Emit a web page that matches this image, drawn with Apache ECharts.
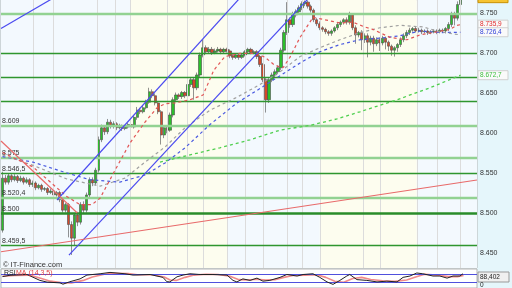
<!DOCTYPE html>
<html><head><meta charset="utf-8">
<script src="https://cdn.jsdelivr.net/npm/echarts@6/dist/echarts.min.js"></script>
<style>html,body{margin:0;padding:0;background:#e5f6fb;}#c{width:512px;height:288px;}</style>
</head><body><div id="c"></div>
<script>
const opens = [8.479,8.544,8.539,8.547,8.542,8.546,8.541,8.544,8.539,8.542,
8.536,8.538,8.532,8.535,8.530,8.531,8.526,8.528,8.523,8.526,
8.517,8.504,8.511,8.486,8.469,8.498,8.489,8.511,8.504,8.523,
8.542,8.538,8.554,8.592,8.607,8.602,8.614,8.609,8.612,8.607,
8.609,8.606,8.608,8.611,8.608,8.620,8.629,8.627,8.632,8.639,
8.652,8.647,8.638,8.627,8.598,8.607,8.604,8.623,8.642,8.648,
8.646,8.651,8.647,8.661,8.667,8.657,8.673,8.698,8.707,8.702,
8.705,8.701,8.703,8.705,8.702,8.705,8.703,8.697,8.695,8.698,
8.695,8.698,8.702,8.705,8.701,8.702,8.696,8.686,8.667,8.642,
8.667,8.673,8.677,8.682,8.704,8.726,8.742,8.736,8.748,8.752,
8.757,8.762,8.764,8.759,8.754,8.742,8.737,8.732,8.730,8.727,
8.725,8.728,8.732,8.736,8.739,8.742,8.739,8.748,8.732,8.723,
8.726,8.717,8.722,8.714,8.719,8.712,8.717,8.713,8.719,8.714,
8.709,8.704,8.707,8.711,8.717,8.722,8.726,8.729,8.731,8.728,
8.729,8.727,8.728,8.726,8.727,8.728,8.727,8.729,8.728,8.731,
8.736,8.748,8.744,8.761];
const closes = [8.544,8.539,8.547,8.542,8.546,8.541,8.544,8.539,8.542,8.536,
8.538,8.532,8.535,8.530,8.531,8.526,8.528,8.523,8.526,8.517,
8.504,8.511,8.486,8.469,8.498,8.489,8.511,8.504,8.523,8.542,
8.538,8.554,8.592,8.607,8.602,8.614,8.609,8.612,8.607,8.609,
8.606,8.608,8.611,8.608,8.620,8.629,8.627,8.632,8.639,8.652,
8.647,8.638,8.627,8.598,8.607,8.604,8.623,8.642,8.648,8.646,
8.651,8.647,8.661,8.667,8.657,8.673,8.698,8.707,8.702,8.705,
8.701,8.703,8.705,8.702,8.705,8.703,8.697,8.695,8.698,8.695,
8.698,8.702,8.705,8.701,8.702,8.696,8.686,8.667,8.642,8.667,
8.673,8.677,8.682,8.704,8.726,8.742,8.736,8.748,8.752,8.757,
8.762,8.764,8.759,8.754,8.742,8.737,8.732,8.730,8.727,8.725,
8.728,8.732,8.736,8.739,8.742,8.739,8.748,8.732,8.723,8.726,
8.717,8.722,8.714,8.719,8.712,8.717,8.713,8.719,8.714,8.709,
8.704,8.707,8.711,8.717,8.722,8.726,8.729,8.731,8.728,8.729,
8.727,8.728,8.726,8.727,8.728,8.727,8.729,8.728,8.731,8.736,
8.748,8.744,8.761,8.769];
const lows = [8.476,8.536,8.536,8.539,8.540,8.538,8.539,8.536,8.537,8.533,
8.533,8.529,8.530,8.527,8.528,8.523,8.524,8.520,8.521,8.514,
8.501,8.501,8.470,8.448,8.460,8.484,8.486,8.500,8.501,8.520,
8.534,8.535,8.551,8.589,8.598,8.599,8.606,8.606,8.604,8.605,
8.603,8.604,8.606,8.605,8.606,8.617,8.624,8.625,8.630,8.637,
8.644,8.635,8.624,8.586,8.594,8.600,8.602,8.620,8.639,8.643,
8.643,8.644,8.642,8.658,8.642,8.654,8.670,8.695,8.699,8.700,
8.698,8.699,8.701,8.699,8.700,8.701,8.694,8.692,8.693,8.692,
8.693,8.696,8.700,8.699,8.699,8.693,8.683,8.664,8.626,8.638,
8.664,8.670,8.674,8.679,8.701,8.723,8.732,8.733,8.745,8.749,
8.754,8.759,8.756,8.751,8.739,8.734,8.729,8.727,8.724,8.722,
8.722,8.726,8.729,8.733,8.736,8.736,8.736,8.729,8.712,8.720,
8.704,8.713,8.695,8.710,8.702,8.709,8.703,8.710,8.705,8.703,
8.697,8.696,8.702,8.708,8.714,8.719,8.723,8.727,8.726,8.726,
8.724,8.725,8.723,8.724,8.725,8.724,8.725,8.726,8.725,8.728,
8.733,8.735,8.741,8.758];
const highs = [8.552,8.548,8.550,8.549,8.549,8.548,8.547,8.546,8.545,8.544,
8.541,8.540,8.537,8.537,8.533,8.533,8.531,8.530,8.528,8.528,
8.519,8.513,8.513,8.490,8.500,8.502,8.514,8.515,8.526,8.545,
8.545,8.557,8.596,8.611,8.610,8.618,8.617,8.615,8.614,8.612,
8.611,8.610,8.613,8.613,8.623,8.633,8.632,8.635,8.642,8.657,
8.655,8.650,8.640,8.629,8.610,8.609,8.626,8.645,8.651,8.650,
8.653,8.653,8.664,8.670,8.670,8.676,8.701,8.717,8.710,8.708,
8.708,8.706,8.708,8.707,8.707,8.707,8.705,8.699,8.700,8.700,
8.700,8.704,8.707,8.707,8.704,8.704,8.698,8.688,8.669,8.669,
8.676,8.680,8.685,8.707,8.729,8.764,8.745,8.752,8.755,8.760,
8.765,8.766,8.766,8.761,8.756,8.744,8.740,8.734,8.732,8.729,
8.730,8.734,8.738,8.741,8.744,8.745,8.752,8.750,8.735,8.728,
8.729,8.725,8.725,8.722,8.722,8.720,8.720,8.722,8.721,8.716,
8.711,8.709,8.713,8.720,8.725,8.729,8.732,8.733,8.733,8.732,
8.731,8.730,8.730,8.729,8.730,8.730,8.731,8.731,8.733,8.739,
8.752,8.752,8.765,8.775];

// moving averages read at points: [candle index, price]
const maFast = [[0,8.576],[10.2,8.558],[21.5,8.521],[25.9,8.511],[29.9,8.511],[32.6,8.519],[37.6,8.554],[42.6,8.588],[47.6,8.614],[51.6,8.632],[54.3,8.637],[57.6,8.638],[62.6,8.642],[67,8.648],[70.6,8.679],[74.3,8.696],[79.3,8.700],[85,8.700],[87.7,8.695],[91,8.685],[93.7,8.682],[96,8.695],[99.4,8.720],[103.7,8.745],[107.7,8.742],[112.7,8.738],[117,8.739],[121,8.733],[123.7,8.730],[129.4,8.720],[135.1,8.717],[139.4,8.723],[143.8,8.726],[149.5,8.730],[151.8,8.735],[153,8.7359]];
const maMid = [[0,8.573],[10.2,8.560],[21.5,8.543],[32.6,8.534],[40.9,8.544],[47.6,8.564],[54.3,8.583],[61,8.607],[69.3,8.629],[77.7,8.644],[86,8.661],[92.7,8.677],[99.4,8.696],[106,8.707],[112.7,8.717],[119.4,8.726],[126.1,8.732],[132.8,8.735],[140.5,8.733],[146.1,8.727],[153,8.723]];
const maSlow = [[0,8.571],[10.2,8.564],[20.2,8.552],[29.2,8.542],[39.2,8.539],[47.6,8.548],[54.3,8.563],[61,8.582],[69.3,8.611],[78.3,8.638],[84.3,8.652],[89.3,8.664],[94.4,8.676],[99.4,8.688],[106,8.702],[112.7,8.711],[119.4,8.717],[126.1,8.719],[132.8,8.722],[139.4,8.728],[146.1,8.726],[153,8.7264]];
const maLong = [[52.6,8.564],[60.3,8.571],[72.6,8.582],[82.7,8.592],[92.7,8.604],[102.7,8.610],[111.7,8.618],[119.4,8.627],[131.8,8.642],[142.8,8.657],[153,8.6727]];

// drawn trend lines: [candle index, price]
const lineBlueOld = [[-0.5,8.7312],[22,8.7801]];
const channelLow = [[22.2,8.4479],[102,8.7679]];
const channelHigh = [[18.2,8.5167],[80,8.7721]];
const lineRedDown = [[-0.5,8.5904],[25,8.5005]];
const lineRedUp = [[-0.5,8.4520],[158.5,8.5417]];

// horizontal levels
const levels = [8.7466,8.700,8.670,8.638,8.609,8.575,8.5465,8.5204,8.500,8.4595];
const levelLabels = ['','','','','8.609','8.575','8.546,5','8.520,4','8.500','8.459,5'];

const yTicks = [8.45,8.50,8.55,8.60,8.65,8.70,8.75];

// RSI panel [candle index, value]
const rsi = [[0,60],[2.5,67],[8.2,71],[12.5,40],[14.9,31],[19.2,27],[20.2,20],[22.5,33],[25.9,48],[28.2,68],[32.6,75],[35.9,82],[40.9,75],[43.6,68],[49.3,71],[53.6,56],[54.9,33],[55.9,32],[58.3,59],[60.3,68],[62.6,75],[66,71],[70.3,71],[75,68],[77,40],[78.3,32],[80.3,48],[82.7,40],[85,52],[87,36],[89.3,40],[92.7,56],[95,71],[98.4,63],[100.4,71],[103.7,75],[106,56],[108.4,32],[110.4,19],[112.7,40],[115,63],[116,71],[118.4,44],[121.7,40],[125.1,32],[128.4,36],[131.8,32],[133.8,56],[136.1,63],[138.4,79],[140.4,75],[143.8,63],[146.1,63],[148.5,52],[150.5,63],[152.8,63],[153.8,75]];
const rsiMA = [[0,62],[4,66],[9,68],[13,50],[16,36],[20,28],[23,27],[27,40],[30,58],[34,72],[37,78],[42,76],[45,70],[50,70],[54,58],[56,42],[58,40],[61,56],[64,68],[68,72],[72,71],[76,62],[79,44],[82,42],[85,46],[88,42],[91,44],[94,56],[97,66],[101,68],[105,70],[108,56],[111,35],[114,30],[117,50],[120,56],[123,45],[127,38],[131,35],[135,42],[138,58],[141,72],[145,68],[149,60],[152,60],[154,66]];

// session shading and time grid (candle index units)
const sessions = [[-0.5,42.6],[42.6,75],[75,106],[106,138.4],[138.4,158.5]];
const timeLines = [10.2,16.9,31.6,37.6,42.6,54.9,61.6,67,75,81,87,95,100,106,120.4,126.1,138.4,145.1,152.8];

const N = 159;
const cats = Array.from({length:N},(_, i)=>String(i));
const yMax = 8.7667, yMin = 8.7667 - 268/800;

const sessionColors = ['#f3f9fe','#fdfdef'];
const levelStyle = {
  light:{color:'#92d292', width:2.3},
  dark:{color:'#2f962f', width:1.3},
  thick:{color:'#2a8c2a', width:2.6}
};
const levelKind = ['light','dark','dark','dark','light','light','dark','light','thick','dark'];

const chart = echarts.init(document.getElementById('c'), null, {renderer:'canvas', width:512, height:288});

const lineS = (data, color, width, type, z) => ({
  type:'line', xAxisIndex:1, yAxisIndex:0, data, showSymbol:false, symbol:'none',
  lineStyle:{color, width, type}, z: z||5, silent:true, animation:false
});

const option = {
  animation:false,
  backgroundColor:'transparent',
  textStyle:{fontFamily:'Liberation Sans, Arial, sans-serif'},
  grid:[
    {left:1, top:0, right:35, height:268, show:true, backgroundColor:'#ffffff', borderColor:'#b5b5b5', borderWidth:1},
    {left:1, top:269, right:35, height:21, show:true, backgroundColor:'#ffffff', borderColor:'#b5b5b5', borderWidth:1}
  ],
  xAxis:[
    {type:'category', gridIndex:0, data:cats, boundaryGap:true, show:false},
    {type:'value', gridIndex:0, min:-0.5, max:N-0.5, show:false},
    {type:'value', gridIndex:1, min:-0.5, max:N-0.5, show:false}
  ],
  yAxis:[
    {type:'value', gridIndex:0, position:'right', min:yMin, max:yMax,
      splitLine:{show:false},
      axisLine:{show:true, lineStyle:{color:'#b0b0b0'}},
      axisTick:{show:true, customValues:yTicks, length:3, lineStyle:{color:'#555'}},
      axisLabel:{customValues:yTicks, formatter:v=>v.toFixed(3), fontSize:7, color:'#333', margin:3}},
    {type:'value', gridIndex:1, min:0, max:100, show:false, splitLine:{show:false}}
  ],
  series:[
    {type:'line', xAxisIndex:1, yAxisIndex:0, data:[], z:1, silent:true,
      markArea:{silent:true, data: sessions.map((s,k)=>[{xAxis:s[0], itemStyle:{color:sessionColors[k%2]}},{xAxis:s[1]}])},
      markLine:{silent:true, symbol:'none', label:{show:false},
        lineStyle:{color:'#dcdcdc', width:1, type:'solid'},
        data: timeLines.map(v=>({xAxis:v}))}
    },
    {type:'line', xAxisIndex:1, yAxisIndex:0, data:[], z:2, silent:true,
      markLine:{silent:true, symbol:'none',
        data: levels.map((v,k)=>({yAxis:v,
          lineStyle:{color:levelStyle[levelKind[k]].color, width:levelStyle[levelKind[k]].width, type:'solid'},
          label:{show: !!levelLabels[k], formatter: levelLabels[k], position:'insideStartTop', fontSize:7, color:'#333', distance:[1,1]}}))}
    },
    {type:'candlestick', xAxisIndex:0, yAxisIndex:0, z:3, barWidth:2.8,
      data: opens.map((o,i)=>[o, closes[i], lows[i], highs[i]]),
      itemStyle:{color:'#2cbf2c', color0:'#d4482a', borderColor:'#4a4a4a', borderColor0:'#4a4a4a', borderWidth:0.6}},
    lineS(maLong, '#4fcf4f', 1.3, [3,3]),
    lineS(maSlow, '#4a5ae0', 1.2, [3,3]),
    lineS(maMid, '#a0a0a0', 1.2, [3,3]),
    lineS(maFast, '#e25555', 1.2, [3,3]),
    lineS(lineBlueOld, '#4b4bf0', 1.2, 'solid', 6),
    lineS(channelLow, '#4b4bf0', 1.2, 'solid', 6),
    lineS(channelHigh, '#4b4bf0', 1.2, 'solid', 6),
    lineS(lineRedDown, '#e86a6a', 1.2, 'solid', 6),
    lineS(lineRedUp, '#e86a6a', 1.2, 'solid', 6),
    {type:'line', xAxisIndex:2, yAxisIndex:1, data:rsiMA, showSymbol:false, symbol:'none', silent:true,
      lineStyle:{color:'#f08a8a', width:1.6}, z:4,
      markLine:{silent:true, symbol:'none', label:{show:false}, lineStyle:{color:'#5050dd', width:1, type:'solid'},
        data:[{yAxis:70},{yAxis:30}]}},
    {type:'line', xAxisIndex:2, yAxisIndex:1, data:rsi, showSymbol:false, symbol:'none', silent:true,
      lineStyle:{color:'#222', width:1}, z:5}
  ]
};
chart.setOption(option);

const yPx = v => chart.convertToPixel({yAxisIndex:0}, v);
const tag = (v, text, color, bg, border) => {
  const y = yPx(v);
  return {type:'group', z:50, children:[
    {type:'rect', shape:{x:478, y:y-4.5, width:30, height:9}, style:{fill:bg, stroke:border, lineWidth:1}},
    {type:'text', x:480, y:y, style:{text, fill:color, font:'6.5px "Liberation Sans", Arial, sans-serif', textVerticalAlign:'middle', textAlign:'left'}}
  ]};
};
const lastOf = a => a[a.length-1][1];
chart.setOption({graphic:[
  tag(closes[closes.length-1], '', '#000', '#f6c431', '#c99000'),
  tag(lastOf(maFast), '8.735,9', '#e02828', '#fafafa', '#d0d0d0'),
  tag(lastOf(maSlow), '8.726,4', '#2a3ad8', '#fafafa', '#d0d0d0'),
  tag(lastOf(maLong), '8.672,7', '#3cbf3c', '#fafafa', '#d0d0d0'),
  {type:'group', z:50, children:[
    {type:'rect', shape:{x:478, y:272, width:31, height:10}, style:{fill:'#f0f0f0', stroke:'#999', lineWidth:1}},
    {type:'text', x:480, y:277, style:{text:'88,402', fill:'#222', font:'6.5px "Liberation Sans", Arial, sans-serif', textVerticalAlign:'middle'}},
    {type:'text', x:480, y:285.5, style:{text:'0', fill:'#222', font:'6.5px "Liberation Sans", Arial, sans-serif', textVerticalAlign:'middle'}}
  ]},
  {type:'text', x:3, y:264.5, z:50, style:{text:'© IT-Finance.com', fill:'#333', font:'7.5px "Liberation Sans", Arial, sans-serif', textVerticalAlign:'middle'}},
  {type:'text', x:4, y:273.5, z:50, style:{text:'RSI', fill:'#222', font:'7px "Liberation Sans", Arial, sans-serif', textVerticalAlign:'middle'}},
  {type:'text', x:16, y:273.5, z:50, style:{text:'MA (14,3,5)', fill:'#e04040', font:'7px "Liberation Sans", Arial, sans-serif', textVerticalAlign:'middle'}}
]});
</script></body></html>
